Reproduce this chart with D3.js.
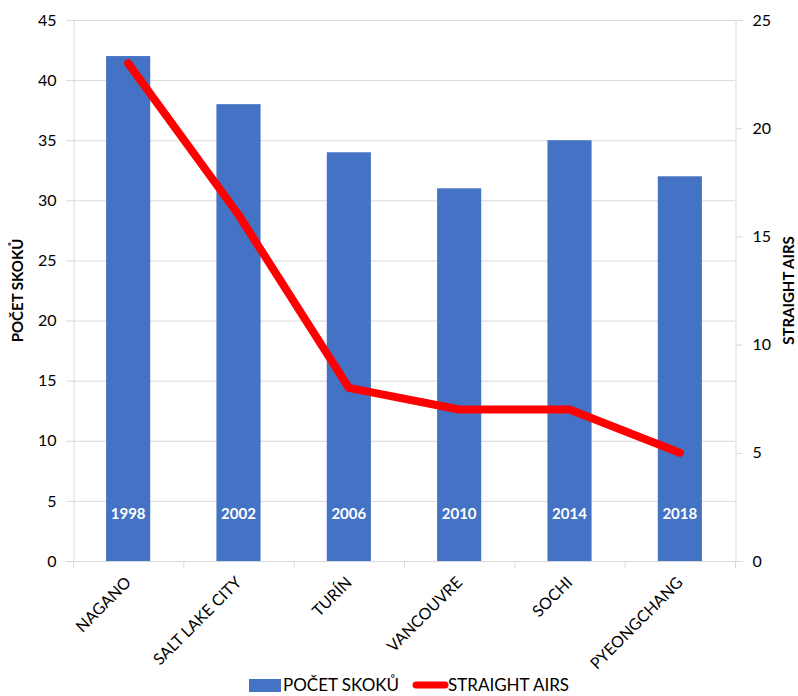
<!DOCTYPE html>
<html>
<head>
<meta charset="utf-8">
<script src="https://cdn.jsdelivr.net/npm/d3@7"></script>
<style>
  body { margin: 0; background: #fff; }
  svg { font-family: Lato, "Open Sans", sans-serif; }
</style>
</head>
<body>
<div class="chart"></div>
<script>
const w = 798;
const h = 696;

// data
const cities = ["NAGANO", "SALT LAKE CITY", "TURÍN", "VANCOUVRE", "SOCHI", "PYEONGCHANG"];
const years = ["1998", "2002", "2006", "2010", "2014", "2018"];
const jumps = [42, 38, 34, 31, 35, 32];
const straightAirs = [23, 16, 8, 7, 7, 5];
const leftTicks = [0, 5, 10, 15, 20, 25, 30, 35, 40, 45];
const rightTicks = [0, 5, 10, 15, 20, 25];

const m = { left: 73, right: 735, top: 20, bottom: 561 };

const svg = d3.select(".chart")
    .append("svg")
    .attr("width", w)
    .attr("height", h);

const x = d3.scaleBand()
    .domain(cities)
    .range([m.left, m.right])
    .paddingInner(0.6)
    .paddingOuter(0.3);

const yL = d3.scaleLinear().domain([0, 45]).range([m.bottom, m.top]);
const yR = d3.scaleLinear().domain([0, 25]).range([m.bottom, m.top]);

// gridlines
svg.append("g")
    .selectAll("line")
    .data(leftTicks.slice(1))
    .enter()
    .append("line")
    .attr("x1", m.left)
    .attr("x2", m.right)
    .attr("y1", d => yL(d) + 0.5)
    .attr("y2", d => yL(d) + 0.5)
    .attr("stroke", "#d9d9d9")
    .attr("stroke-width", 1);

// bars
svg.append("g")
    .selectAll("rect")
    .data(jumps)
    .enter()
    .append("rect")
    .attr("x", (d, i) => x(cities[i]))
    .attr("y", d => yL(d))
    .attr("width", x.bandwidth())
    .attr("height", d => yL(0) - yL(d))
    .attr("fill", "#4472c4");

// year labels inside bars
svg.append("g")
    .selectAll("text")
    .data(years)
    .enter()
    .append("text")
    .attr("x", (d, i) => x(cities[i]) + x.bandwidth() / 2)
    .attr("y", 519)
    .attr("text-anchor", "middle")
    .attr("fill", "#fff")
    .style("font-size", "15px")
    .style("font-weight", 700)
    .text(d => d);

// axes
const axisL = svg.append("g")
    .attr("transform", `translate(${m.left + 0.5},0)`)
    .call(d3.axisLeft(yL).tickValues(leftTicks).tickSize(7).tickPadding(10));

const axisR = svg.append("g")
    .attr("transform", `translate(${m.right + 0.5},0)`)
    .call(d3.axisRight(yR).tickValues(rightTicks).tickSize(7).tickPadding(10));

const axisB = svg.append("g")
    .attr("transform", `translate(0,${m.bottom + 0.5})`);
axisB.append("line")
    .attr("x1", m.left - 7).attr("x2", m.right + 7)
    .attr("stroke", "#d9d9d9");
axisB.selectAll("line.tick")
    .data(d3.range(cities.length + 1))
    .enter()
    .append("line")
    .attr("class", "tick")
    .attr("x1", i => m.left + i * x.step() + 0.5)
    .attr("x2", i => m.left + i * x.step() + 0.5)
    .attr("y1", 0).attr("y2", 7)
    .attr("stroke", "#d9d9d9");

axisB.selectAll("text")
    .data(cities)
    .enter()
    .append("text")
    .attr("transform", d => `translate(${x(d) + x.bandwidth() / 2 + 4},${22}) rotate(-45)`)
    .attr("text-anchor", "end")
    .attr("fill", "#000")
    .style("font-size", "16px")
    .text(d => d);

[axisL, axisR].forEach(a => {
    a.select(".domain").attr("stroke", "#d9d9d9");
    a.selectAll(".tick line").attr("stroke", "#d9d9d9");
    a.selectAll(".tick text").attr("fill", "#000").style("font-size", "16px");
    a.style("font-family", "Lato, sans-serif");
});

// line series
const line = d3.line()
    .x((d, i) => x(cities[i]) + x.bandwidth() / 2)
    .y(d => yR(d));

svg.append("path")
    .datum(straightAirs)
    .attr("d", line)
    .attr("fill", "none")
    .attr("stroke", "#ff0000")
    .attr("stroke-width", 8)
    .attr("stroke-linejoin", "round")
    .attr("stroke-linecap", "round");

// axis titles
svg.append("text")
    .attr("transform", `translate(23,${(m.top + m.bottom) / 2}) rotate(-90)`)
    .attr("text-anchor", "middle")
    .style("font-size", "15px")
    .style("font-weight", 700)
    .text("POČET SKOKŮ");

svg.append("text")
    .attr("transform", `translate(794,${(m.top + m.bottom) / 2}) rotate(-90)`)
    .attr("text-anchor", "middle")
    .style("font-size", "15px")
    .style("font-weight", 700)
    .text("STRAIGHT AIRS");

// legend
const legend = svg.append("g").attr("transform", "translate(0,691)");
legend.append("rect")
    .attr("x", 249).attr("y", -12)
    .attr("width", 32).attr("height", 13)
    .attr("fill", "#4472c4");
legend.append("text")
    .attr("x", 283).attr("y", 0)
    .style("font-size", "17px")
    .text("POČET SKOKŮ");
legend.append("line")
    .attr("x1", 416).attr("x2", 445)
    .attr("y1", -6).attr("y2", -6)
    .attr("stroke", "#ff0000")
    .attr("stroke-width", 7)
    .attr("stroke-linecap", "round");
legend.append("text")
    .attr("x", 448).attr("y", 0)
    .style("font-size", "17px")
    .text("STRAIGHT AIRS");
</script>
</body>
</html>
